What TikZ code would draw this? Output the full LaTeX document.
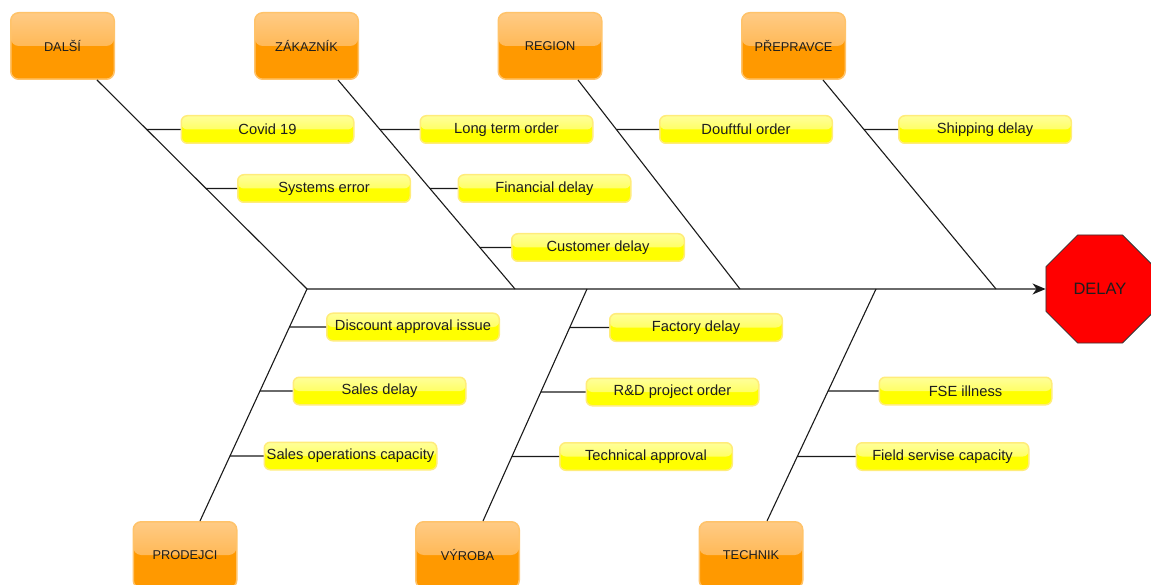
\documentclass[tikz,border=0pt]{standalone}
\usepackage{fontspec}
\setmainfont{Liberation Sans}
\usetikzlibrary{shapes.geometric,arrows.meta,calc}

\definecolor{catFill}{HTML}{FF9900}
\definecolor{catTop}{HTML}{FFCB85}
\definecolor{catMid}{HTML}{FFA628}
\definecolor{catEdge}{HTML}{FFC36A}
\definecolor{causeFill}{HTML}{FFFF00}
\definecolor{causeTop}{HTML}{FFFF9A}
\definecolor{causeMid}{HTML}{FFFF30}
\definecolor{causeEdge}{HTML}{FFEC7A}
\definecolor{inkText}{HTML}{1E1E1E}
\definecolor{boneInk}{HTML}{1A1A1A}

\tikzset{
  catbox/.style={rectangle, rounded corners=8pt, minimum width=103.5pt,
    minimum height=66.5pt, inner sep=0pt, draw=catEdge, line width=1.5pt,
    fill=catFill, text=inkText, font=\fontsize{12.8}{14}\selectfont,
    path picture={\fill[top color=catTop, bottom color=catMid]
      (path picture bounding box.north west) rectangle
      (path picture bounding box.east);}},
  causebox/.style={rectangle, rounded corners=6pt, minimum width=172.5pt,
    minimum height=27.5pt, inner sep=0pt, draw=causeEdge, line width=1.5pt,
    fill=causeFill, text=inkText, font=\fontsize{14.7}{16}\selectfont,
    path picture={\fill[top color=causeTop, bottom color=causeMid]
      (path picture bounding box.north west) rectangle
      (path picture bounding box.east);}},
  effect/.style={regular polygon, regular polygon sides=8, minimum size=117pt,
    inner sep=0pt, fill=red, draw=black!80, line width=0.8pt, text=inkText,
    font=\fontsize{16.5}{18}\selectfont},
  bone/.style={draw=boneInk, line width=1.1pt},
  spine/.style={bone, -{Stealth[length=13pt,width=11pt,inset=4pt]}}
}

\begin{document}
\begin{tikzpicture}[x=1pt,y=-1pt]
\useasboundingbox (0,0) rectangle (1151,585);

% categories above the spine
\node[catbox] (dalsi)     at (62.5,46)  {DALŠÍ};
\node[catbox] (zakaznik)  at (306.5,46) {ZÁKAZNÍK};
\node[catbox] (region)    at (550,46)   {REGION};
\node[catbox] (prepravce) at (793.5,46) {PŘEPRAVCE};

% categories below the spine
\node[catbox] (prodejci) at (185,555)   {PRODEJCI};
\node[catbox] (vyroba)   at (467.5,555) {VÝROBA};
\node[catbox] (technik)  at (751,555)   {TECHNIK};

% effect
\node[effect] (delay) at (1100,289) {DELAY};

% causes
\node[causebox] (covid)     at (267.5,129.5) {Covid 19};
\node[causebox] (syserr)    at (324,188.5)   {Systems error};
\node[causebox] (longterm)  at (506.5,129.5) {Long term order};
\node[causebox] (financial) at (544.5,188.5) {Financial delay};
\node[causebox] (customer)  at (598,247.5)   {Customer delay};
\node[causebox] (doubtful)  at (746,129.5)   {Douftful order};
\node[causebox] (shipping)  at (985,129.5)   {Shipping delay};
\node[causebox] (discount)  at (413,327)     {Discount approval issue};
\node[causebox] (salesdel)  at (379.5,391)   {Sales delay};
\node[causebox] (salesops)  at (350.5,456)   {Sales operations capacity};
\node[causebox] (factory)   at (696,327.5)   {Factory delay};
\node[causebox] (rnd)       at (672.5,392)   {R\&D project order};
\node[causebox] (techappr)  at (646,456.5)   {Technical approval};
\node[causebox] (fse)       at (965.5,391)   {FSE illness};
\node[causebox] (field)     at (942.5,456.5) {Field servise capacity};

% bone end points
\coordinate (dalsiFoot)    at ($(dalsi.south)+(34.5,0)$);
\coordinate (zakaznikFoot) at ($(zakaznik.south)+(31.5,0)$);
\coordinate (regionFoot)   at ($(region.south)+(28,0)$);
\coordinate (prepravceFoot) at ($(prepravce.south)+(29.5,0)$);
\coordinate (prodejciFoot) at ($(prodejci.north)+(15,0)$);
\coordinate (vyrobaFoot)   at ($(vyroba.north)+(15.5,0)$);
\coordinate (technikFoot)  at ($(technik.north)+(16,0)$);

% joints on the spine
\coordinate (head) at (307,289);
\coordinate (j2) at (515,289);
\coordinate (j3) at (740,289);
\coordinate (j4) at (996,289);
\coordinate (k2) at (587,289);
\coordinate (k3) at (876,289);

% spine
\draw[spine] (head) -- (delay);

% main bones
\draw[bone] (dalsiFoot) -- (head);
\draw[bone] (zakaznikFoot) -- (j2);
\draw[bone] (regionFoot) -- (j3);
\draw[bone] (prepravceFoot) -- (j4);
\draw[bone] (prodejciFoot) -- (head);
\draw[bone] (vyrobaFoot) -- (k2);
\draw[bone] (technikFoot) -- (k3);

% sub-bones
\draw[bone] ($(dalsiFoot)!0.2368!(head)$) -- (covid.west);
\draw[bone] ($(dalsiFoot)!0.5191!(head)$) -- (syserr.west);
\draw[bone] ($(zakaznikFoot)!0.2368!(j2)$) -- (longterm.west);
\draw[bone] ($(zakaznikFoot)!0.5191!(j2)$) -- (financial.west);
\draw[bone] ($(zakaznikFoot)!0.8014!(j2)$) -- (customer.west);
\draw[bone] ($(regionFoot)!0.2368!(j3)$) -- (doubtful.west);
\draw[bone] ($(prepravceFoot)!0.2368!(j4)$) -- (shipping.west);
\draw[bone] ($(head)!0.1638!(prodejciFoot)$) -- (discount.west);
\draw[bone] ($(head)!0.4397!(prodejciFoot)$) -- (salesdel.west);
\draw[bone] ($(head)!0.7198!(prodejciFoot)$) -- (salesops.west);
\draw[bone] ($(k2)!0.1659!(vyrobaFoot)$) -- (factory.west);
\draw[bone] ($(k2)!0.4440!(vyrobaFoot)$) -- (rnd.west);
\draw[bone] ($(k2)!0.7220!(vyrobaFoot)$) -- (techappr.west);
\draw[bone] ($(k3)!0.4397!(technikFoot)$) -- (fse.west);
\draw[bone] ($(k3)!0.7220!(technikFoot)$) -- (field.west);
\end{tikzpicture}
\end{document}
